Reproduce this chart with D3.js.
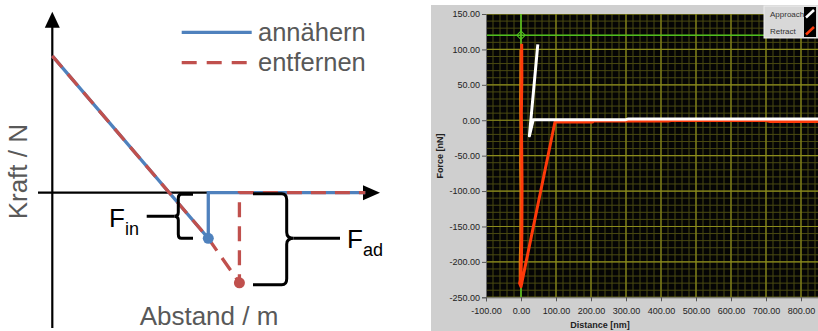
<!DOCTYPE html>
<html>
<head>
<meta charset="utf-8">
<script src="https://cdn.jsdelivr.net/npm/d3@7"></script>
<style>
  html, body { margin: 0; padding: 0; background: #fff; }
  svg { display: block; }
</style>
</head>
<body>
<svg id="chart" width="818" height="331"></svg>
<script>
// ---- left panel: schematic force curve (arbitrary units) ----
var approachPts = [[0, 3.78], [4.76, -1.26], [4.76, 0], [9.55, 0]];
var retractPts  = [[0, 3.78], [4.76, -1.26], [5.71, -2.49], [5.71, 0], [9.55, 0]];
var approachDot = [4.76, -1.26];
var retractDot  = [5.71, -2.49];
var legendNames = ["annähern", "entfernen"];

// ---- right panel: measured curve (nm, nN) ----
var approachNm = [[900, 1.6], [305, 1.6], [300, 0.8], [35, 0.8], [24, -22], [48, 107]];
var retractNm  = [[2, 108], [2.5, 60], [1, 10], [2, -40], [3, -90], [2.5, -160], [1, -200], [-1, -225], [-4, -230], [0, -235],
                  [97, -2.5], [205, -2.5], [207, -1], [420, -1.2], [430, -0.5], [700, -0.5], [712, -1.8], [900, -1.8]];
var contactNm  = [[-1, 100], [-1.5, 60], [-2, 30], [-1, -20], [-2, -60], [-1, -100], [-1.5, -170], [-3, -200], [-3, -228]];
var cursorPos  = [0, 120];
var xTicksNm = [-100, 0, 100, 200, 300, 400, 500, 600, 700, 800, 900];
var yTicksNn = [150, 100, 50, 0, -50, -100, -150, -200, -250];
var seriesNames = ["Approach", "Retract"];

var svg = d3.select("#chart");

// =============== left panel ===============
var lx = d3.scaleLinear().domain([0, 10]).range([52.3, 380]);
var ly = d3.scaleLinear().domain([0, 5]).range([192.7, 11.7]);
var blue = "#4f81bd", red = "#c0504d", grayText = "#595959";

var left = svg.append("g");
var line = d3.line().x(function(d){ return lx(d[0]); }).y(function(d){ return ly(d[1]); });

// axes with arrows
left.append("line").attr("x1", lx(0)).attr("x2", lx(0)).attr("y1", 328).attr("y2", ly(4.6))
  .attr("stroke", "#000").attr("stroke-width", 2.2);
left.append("path")
  .attr("d", "M" + lx(0) + "," + ly(5) + "L" + (lx(0) - 7.5) + "," + (ly(5) + 16) + "L" + (lx(0) + 7.5) + "," + (ly(5) + 16) + "Z")
  .attr("fill", "#000");
left.append("line").attr("x1", 38).attr("x2", lx(9.6)).attr("y1", ly(0)).attr("y2", ly(0))
  .attr("stroke", "#000").attr("stroke-width", 2.2);
left.append("path")
  .attr("d", "M" + lx(10) + "," + ly(0) + "L" + (lx(10) - 17) + "," + (ly(0) - 7.5) + "L" + (lx(10) - 17) + "," + (ly(0) + 7.5) + "Z")
  .attr("fill", "#000");

// curves
left.append("path").attr("d", line(approachPts)).attr("fill", "none")
  .attr("stroke", blue).attr("stroke-width", 3.3);
left.append("path").attr("d", line(retractPts)).attr("fill", "none")
  .attr("stroke", red).attr("stroke-width", 3.3).attr("stroke-dasharray", "15,9");
left.append("circle").attr("cx", lx(approachDot[0])).attr("cy", ly(approachDot[1])).attr("r", 5.5).attr("fill", blue);
left.append("circle").attr("cx", lx(retractDot[0])).attr("cy", ly(retractDot[1])).attr("r", 5.5).attr("fill", red);

// brace for F_in  ({ opening to the right)
var bTop = ly(0) + 1.5, bBot = ly(approachDot[1]), bx = 178.3, bMid = (bTop + bBot) / 2;
left.append("path")
  .attr("d", "M193," + bTop + "L" + (bx + 3) + "," + bTop + "Q" + bx + "," + bTop + " " + bx + "," + (bTop + 4) +
    "L" + bx + "," + (bMid - 4) + "Q" + bx + "," + bMid + " " + (bx - 4) + "," + bMid +
    "Q" + bx + "," + bMid + " " + bx + "," + (bMid + 4) +
    "L" + bx + "," + (bBot - 4) + "Q" + bx + "," + bBot + " " + (bx + 3) + "," + bBot + "L193," + bBot)
  .attr("fill", "none").attr("stroke", "#000").attr("stroke-width", 3);
left.append("line").attr("x1", 146.7).attr("x2", bx - 4).attr("y1", bMid).attr("y2", bMid)
  .attr("stroke", "#000").attr("stroke-width", 3);

// brace for F_ad  (} opening to the left)
var cTop = ly(0) + 1, cBot = ly(retractDot[1]) + 2, cx = 286.7, cMid = ly(approachDot[1]);
left.append("path")
  .attr("d", "M253," + cTop + "L" + (cx - 5) + "," + cTop + "Q" + cx + "," + cTop + " " + cx + "," + (cTop + 6) +
    "L" + cx + "," + (cMid - 6) + "Q" + cx + "," + cMid + " " + (cx + 7) + "," + cMid +
    "Q" + cx + "," + cMid + " " + cx + "," + (cMid + 6) +
    "L" + cx + "," + (cBot - 6) + "Q" + cx + "," + cBot + " " + (cx - 5) + "," + cBot + "L253," + cBot)
  .attr("fill", "none").attr("stroke", "#000").attr("stroke-width", 3);
left.append("line").attr("x1", cx + 7).attr("x2", 340).attr("y1", cMid).attr("y2", cMid)
  .attr("stroke", "#000").attr("stroke-width", 3);

// labels
var lblFont = "Liberation Sans, Arial, sans-serif";
var fin = left.append("text").attr("x", 109).attr("y", 226.7).attr("font-family", lblFont).attr("font-size", 26).attr("fill", "#000");
fin.append("tspan").text("F");
fin.append("tspan").attr("font-size", 18).attr("dy", 8).text("in");
var fad = left.append("text").attr("x", 347).attr("y", 248.3).attr("font-family", lblFont).attr("font-size", 26).attr("fill", "#000");
fad.append("tspan").text("F");
fad.append("tspan").attr("font-size", 18).attr("dy", 8).text("ad");

left.append("text").attr("x", 209).attr("y", 325).attr("text-anchor", "middle")
  .attr("font-family", lblFont).attr("font-size", 26).attr("fill", grayText).text("Abstand / m");
left.append("text").attr("transform", "translate(27,171.7) rotate(-90)").attr("text-anchor", "middle")
  .attr("font-family", lblFont).attr("font-size", 26).attr("fill", grayText).text("Kraft / N");

// legend
var leg = left.selectAll(".leg").data(legendNames).enter().append("g")
  .attr("transform", function(d, i){ return "translate(0," + (32.3 + i * 30.4) + ")"; });
leg.append("line").attr("x1", 181.7).attr("x2", 251.7).attr("y1", 0).attr("y2", 0)
  .attr("stroke", function(d, i){ return i ? red : blue; }).attr("stroke-width", 3.3)
  .attr("stroke-dasharray", function(d, i){ return i ? "15,10" : null; });
leg.append("text").attr("x", 258).attr("y", 8.5).attr("font-family", lblFont).attr("font-size", 25.5)
  .attr("fill", grayText).text(function(d){ return d; });

// =============== right panel ===============
var px0 = 486, py0 = 14, py1 = 297.3;
var rx = d3.scaleLinear().domain([-100, 900]).range([px0, 836]);
var ry = d3.scaleLinear().domain([-250, 150]).range([py1, py0]);
var tickFont = "Liberation Sans, Arial, sans-serif";

var right = svg.append("g");
right.append("rect").attr("x", 431).attr("y", 5).attr("width", 387).attr("height", 326).attr("fill", "#cfcfcf");

var clip = svg.append("defs").append("clipPath").attr("id", "plotclip");
clip.append("rect").attr("x", px0).attr("y", py0).attr("width", 818 - px0).attr("height", py1 - py0);

var plot = right.append("g").attr("clip-path", "url(#plotclip)");
plot.append("rect").attr("x", px0).attr("y", py0).attr("width", 818 - px0).attr("height", py1 - py0).attr("fill", "#050505");

// grid: minor then major
var xMinor = d3.range(-100, 901, 20), yMinor = d3.range(-250, 151, 10);
plot.selectAll(".xm").data(xMinor).enter().append("line")
  .attr("x1", function(d){ return rx(d); }).attr("x2", function(d){ return rx(d); })
  .attr("y1", py0).attr("y2", py1).attr("stroke", "#4a4a12").attr("stroke-width", 1);
plot.selectAll(".ym").data(yMinor).enter().append("line")
  .attr("y1", function(d){ return ry(d); }).attr("y2", function(d){ return ry(d); })
  .attr("x1", px0).attr("x2", 836).attr("stroke", "#4a4a12").attr("stroke-width", 1);
plot.selectAll(".xM").data(xTicksNm).enter().append("line")
  .attr("x1", function(d){ return rx(d); }).attr("x2", function(d){ return rx(d); })
  .attr("y1", py0).attr("y2", py1).attr("stroke", "#8c8c1c").attr("stroke-width", 1.2);
plot.selectAll(".yM").data(yTicksNn).enter().append("line")
  .attr("y1", function(d){ return ry(d); }).attr("y2", function(d){ return ry(d); })
  .attr("x1", px0).attr("x2", 836).attr("stroke", "#8c8c1c").attr("stroke-width", 1.2);

// cursor (behind traces)
plot.append("line").attr("x1", px0).attr("x2", 836).attr("y1", ry(cursorPos[1])).attr("y2", ry(cursorPos[1]))
  .attr("stroke", "#4fbf1f").attr("stroke-width", 1.5);
plot.append("line").attr("x1", rx(cursorPos[0])).attr("x2", rx(cursorPos[0])).attr("y1", py0).attr("y2", py1)
  .attr("stroke", "#4fbf1f").attr("stroke-width", 1.5);
plot.append("rect").attr("x", rx(cursorPos[0]) - 3).attr("y", ry(cursorPos[1]) - 3).attr("width", 6).attr("height", 6)
  .attr("fill", "none").attr("stroke", "#4fbf1f").attr("stroke-width", 1)
  .attr("transform", "rotate(45," + rx(cursorPos[0]) + "," + ry(cursorPos[1]) + ")");

var rline = d3.line().x(function(d){ return rx(d[0]); }).y(function(d){ return ry(d[1]); });
plot.append("path").attr("d", rline(contactNm)).attr("fill", "none").attr("stroke", "#e07810").attr("stroke-width", 2.5);
plot.append("path").attr("d", rline(retractNm)).attr("fill", "none").attr("stroke", "#ff3a0a")
  .attr("stroke-width", 3).attr("stroke-linejoin", "round");
plot.append("path").attr("d", rline(approachNm)).attr("fill", "none").attr("stroke", "#ffffff")
  .attr("stroke-width", 3).attr("stroke-linejoin", "round");

// axes
var yAxis = d3.axisLeft(ry).tickValues(yTicksNn).tickFormat(d3.format(".2f")).tickSize(4).tickPadding(2);
var gy = right.append("g").attr("transform", "translate(" + px0 + ",0)").call(yAxis);
var xAxis = d3.axisBottom(rx).tickValues(xTicksNm.slice(0, 10)).tickFormat(d3.format(".2f")).tickSize(4).tickPadding(6);
var gx = right.append("g").attr("transform", "translate(0," + py1 + ")").call(xAxis);
[gy, gx].forEach(function(g){
  g.select(".domain").attr("stroke", "#6a6a6a");
  g.selectAll(".tick line").attr("stroke", "#555");
  g.selectAll(".tick text").attr("font-family", tickFont).attr("font-size", 9).attr("fill", "#222");
});
gy.selectAll(".tick text").text(function(d){ return d3.format(".2f")(d).replace("\u2212", "-"); });
gx.selectAll(".tick text").text(function(d){ return d3.format(".2f")(d).replace("\u2212", "-"); });

right.append("text").attr("x", 600).attr("y", 328).attr("text-anchor", "middle")
  .attr("font-family", tickFont).attr("font-size", 9).attr("font-weight", "bold").attr("fill", "#222").text("Distance [nm]");
right.append("text").attr("transform", "translate(443,156) rotate(-90)").attr("text-anchor", "middle")
  .attr("font-family", tickFont).attr("font-size", 9).attr("font-weight", "bold").attr("fill", "#222").text("Force [nN]");

// legend
var lg = right.append("g");
lg.append("rect").attr("x", 764).attr("y", 6).attr("width", 54).attr("height", 32).attr("fill", "#d8d8d8")
  .attr("stroke", "#eeeeee").attr("stroke-width", 1);
lg.append("rect").attr("x", 804).attr("y", 7).attr("width", 12).attr("height", 30).attr("fill", "#000");
var li = lg.selectAll(".li").data(seriesNames).enter().append("g")
  .attr("transform", function(d, i){ return "translate(0," + (i * 17) + ")"; });
li.append("text").attr("x", 770).attr("y", 17).attr("font-family", tickFont).attr("font-size", 8)
  .attr("fill", "#333").text(function(d){ return d; });
li.append("line").attr("x1", 806).attr("y1", 17.5).attr("x2", 814).attr("y2", 10)
  .attr("stroke", function(d, i){ return i ? "#ff3a0a" : "#fff"; }).attr("stroke-width", 2.5);
</script>
</body>
</html>
